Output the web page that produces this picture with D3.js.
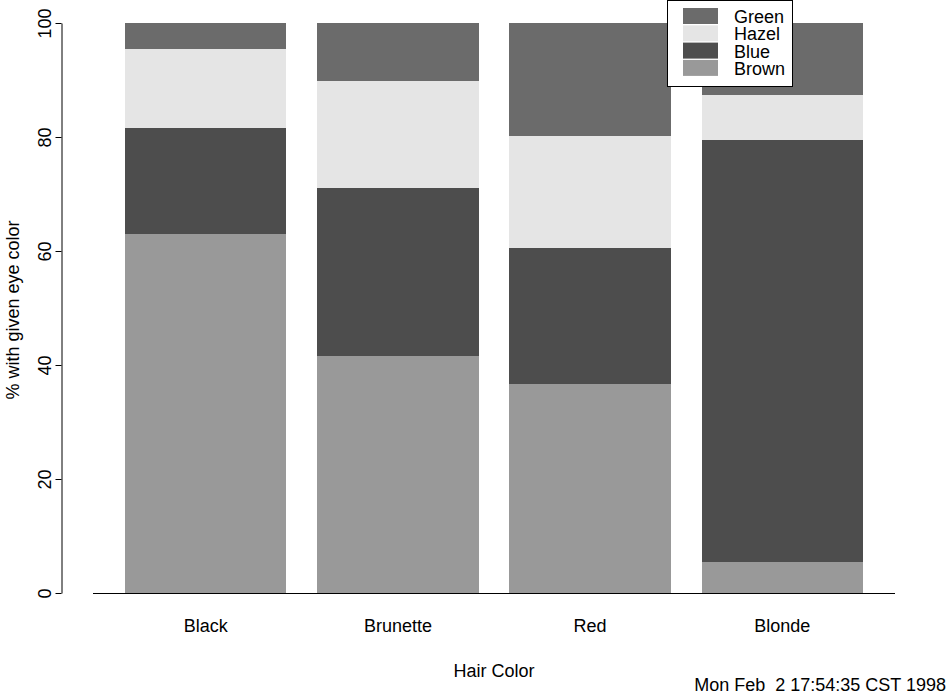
<!DOCTYPE html>
<html>
<head>
<meta charset="utf-8">
<script src="https://cdn.jsdelivr.net/npm/d3@7"></script>
<style>
  body { margin: 0; background: #fff; }
  text { font-family: "Liberation Sans", Arial, sans-serif; fill: #000; }
</style>
</head>
<body>
<div id="chart"></div>
<script>
// percent of each hair colour with a given eye colour (stacked bottom to top)
const hair = ["Black", "Brunette", "Red", "Blonde"];
const eyes = ["Brown", "Blue", "Hazel", "Green"];
const brown = [63.0, 41.6, 36.6, 5.5];
const blue = [18.5, 29.4, 23.9, 74.0];
const hazel = [13.9, 18.9, 19.7, 7.9];
const green = [4.6, 10.1, 19.8, 12.6];
const yTicks = [0, 20, 40, 60, 80, 100];
const stamp = "Mon Feb  2 17:54:35 CST 1998";

const fills = { Brown: "#999999", Blue: "#4d4d4d", Hazel: "#e5e5e5", Green: "#6b6b6b" };

const width = 949, height = 694;
const svg = d3.select("#chart").append("svg")
    .attr("width", width)
    .attr("height", height);

const rows = hair.map((h, i) => ({
  hair: h, Brown: brown[i], Blue: blue[i], Hazel: hazel[i], Green: green[i]
}));
const series = d3.stack().keys(eyes)(rows);

const x = d3.scaleBand()
    .domain(hair)
    .range([125, 863])
    .paddingInner(0.16)
    .paddingOuter(0);

const y = d3.scaleLinear()
    .domain([0, 100])
    .range([593, 23]);

// bars
svg.append("g")
  .selectAll("g")
  .data(series)
  .join("g")
    .attr("fill", d => fills[d.key])
  .selectAll("rect")
  .data(d => d)
  .join("rect")
    .attr("x", d => x(d.data.hair))
    .attr("width", x.bandwidth())
    .attr("y", d => y(d[1]))
    .attr("height", d => y(d[0]) - y(d[1]))
    .attr("shape-rendering", "crispEdges");

// baseline under the bars
svg.append("line")
    .attr("x1", 93).attr("x2", 895)
    .attr("y1", y(0) + 0.5).attr("y2", y(0) + 0.5)
    .attr("stroke", "#000");

// y axis
const yAxis = svg.append("g")
    .attr("transform", "translate(61.5,0)")
    .call(d3.axisLeft(y).tickValues(yTicks).tickSize(6).tickSizeOuter(0).tickPadding(5));
yAxis.select(".domain").attr("stroke", "#000");
yAxis.selectAll(".tick line").attr("stroke", "#000");
yAxis.selectAll(".tick text")
    .attr("font-size", 18)
    .attr("text-anchor", "middle")
    .attr("x", null).attr("dy", null)
    .attr("transform", "translate(-11,0) rotate(-90)");

// category labels
svg.append("g")
  .selectAll("text")
  .data(hair)
  .join("text")
    .attr("x", d => x(d) + x.bandwidth() / 2)
    .attr("y", 632)
    .attr("text-anchor", "middle")
    .attr("font-size", 18)
    .text(d => d);

svg.append("text")
    .attr("x", 494)
    .attr("y", 677)
    .attr("text-anchor", "middle")
    .attr("font-size", 18)
    .text("Hair Color");

svg.append("text")
    .attr("transform", "translate(19,310) rotate(-90)")
    .attr("text-anchor", "middle")
    .attr("font-size", 18)
    .text("% with given eye color");

svg.append("text")
    .attr("x", 946)
    .attr("y", 691)
    .attr("text-anchor", "end")
    .attr("font-size", 18)
    .style("white-space", "pre")
    .attr("xml:space", "preserve")
    .text(stamp);

// legend, top row first
const legendKeys = eyes.slice().reverse();
const legend = svg.append("g");
legend.append("rect")
    .attr("x", 667.5).attr("y", 0.5)
    .attr("width", 125).attr("height", 86)
    .attr("fill", "#fff")
    .attr("stroke", "#000");
const item = legend.selectAll("g.item")
  .data(legendKeys)
  .join("g")
    .attr("class", "item")
    .attr("transform", (d, i) => "translate(0," + (8 + i * 17.3) + ")");
item.append("rect")
    .attr("x", 683).attr("width", 35)
    .attr("y", 0).attr("height", 16)
    .attr("fill", d => fills[d]);
item.append("text")
    .attr("x", 734)
    .attr("y", 15)
    .attr("font-size", 18)
    .text(d => d);
</script>
</body>
</html>
